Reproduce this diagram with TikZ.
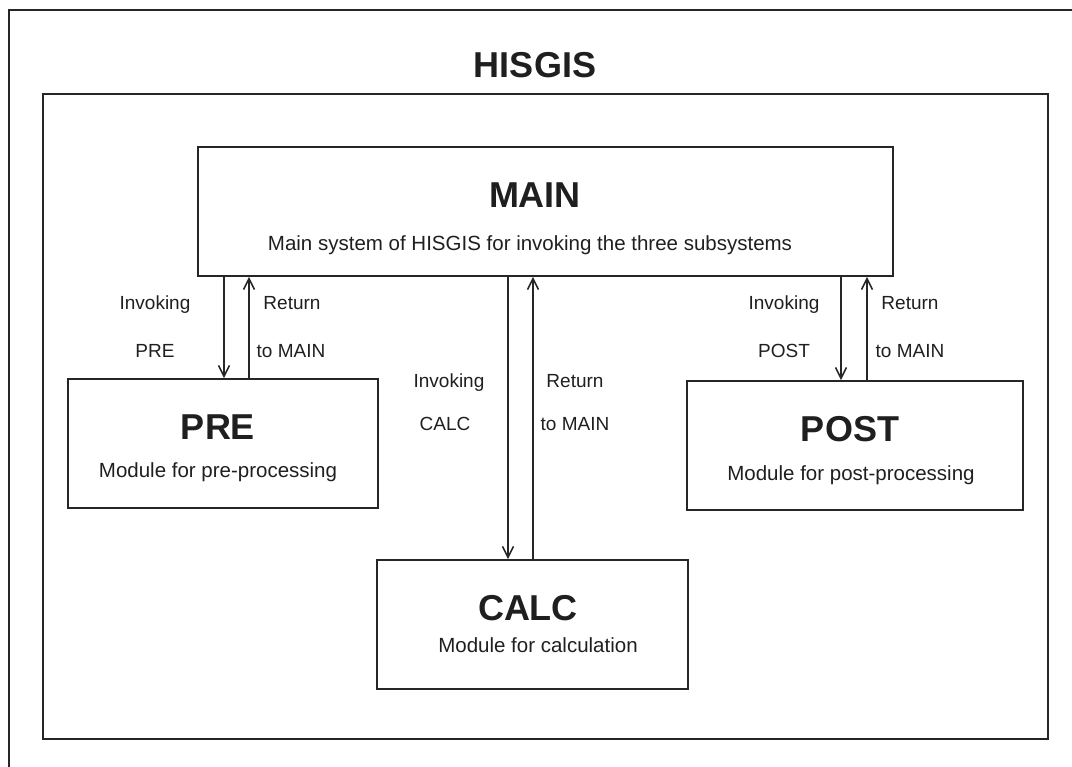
\documentclass[tikz,border=0pt]{standalone}
\usepackage{fontspec}
\setmainfont{Liberation Sans}
\usetikzlibrary{arrows.meta}
\begin{document}
\begin{tikzpicture}[x=1pt,y=-1pt,
  frame/.style={draw=black!85,line width=1.6pt},
  modbox/.style={draw=black!85,line width=1.6pt,inner sep=0pt},
  arr/.style={draw=black!85,line width=1.5pt,-{Straight Barb[length=11pt,width=11pt,line width=1.6pt]}},
  title/.style={anchor=base,inner sep=0pt,font=\fontsize{36}{40}\selectfont\bfseries,text=black!88},
  sub/.style={anchor=base,inner sep=0pt,font=\fontsize{20.5}{24}\selectfont,text=black!88},
  lbl/.style={anchor=base,inner sep=0pt,font=\fontsize{19}{22}\selectfont,text=black!88}]
\useasboundingbox (0,0) rectangle (1072,767);
% outer sheet border (runs off the page at right and bottom)
\draw[frame] (1072,10) -- (9,10) -- (9,767);
\node[title] (hisgis) at (535,78) {HISGIS};
% system frame
\node[modbox,minimum width=1005pt,minimum height=645pt] (sys) at (545.5,416.5) {};
% modules
\node[modbox,minimum width=695pt,minimum height=129pt] (main) at (545.5,211.5) {};
\node[modbox,minimum width=310pt,minimum height=129pt] (pre) at (223,443.5) {};
\node[modbox,minimum width=311pt,minimum height=129pt] (calc) at (532.5,624.5) {};
\node[modbox,minimum width=336pt,minimum height=129pt] (post) at (855,445.5) {};
% module texts
\node[title] (mainT) at (535,208) {MAIN};
\node[sub] (mainS) at (530,251) {Main system of HISGIS for invoking the three subsystems};
\node[title] (preT) at (218,440) {PRE};
\node[sub] (preS) at (218,478) {Module for pre-processing};
\node[title] (calcT) at (528,620) {CALC};
\node[sub] (calcS) at (538,652) {Module for calculation};
\node[title] (postT) at (850,442) {POST};
\node[sub] (postS) at (851,480) {Module for post-processing};
% connector positions
\coordinate (preDn) at ([xshift=1pt]pre.north);
\coordinate (preUp) at ([xshift=26pt]pre.north);
\coordinate (calcDn) at ([xshift=-24.5pt]calc.north);
\coordinate (calcUp) at ([xshift=0.5pt]calc.north);
\coordinate (postDn) at ([xshift=-14pt]post.north);
\coordinate (postUp) at ([xshift=12pt]post.north);
\draw[arr] (main.south -| preDn) -- (preDn);
\draw[arr] (preUp) -- (main.south -| preUp);
\draw[arr] (main.south -| calcDn) -- (calcDn);
\draw[arr] (calcUp) -- (main.south -| calcUp);
\draw[arr] (main.south -| postDn) -- (postDn);
\draw[arr] (postUp) -- (main.south -| postUp);
% connector labels
\node[lbl] (l1) at (155,310) {Invoking};
\node[lbl] (l2) at (155,358) {PRE};
\node[lbl] (l3) at (292,310) {Return};
\node[lbl] (l4) at (291,358) {to MAIN};
\node[lbl] (l5) at (449,388) {Invoking};
\node[lbl] (l6) at (445,431) {CALC};
\node[lbl] (l7) at (575,388) {Return};
\node[lbl] (l8) at (575,431) {to MAIN};
\node[lbl] (l9) at (784,310) {Invoking};
\node[lbl] (l10) at (784,358) {POST};
\node[lbl] (l11) at (910,310) {Return};
\node[lbl] (l12) at (910,358) {to MAIN};
\end{tikzpicture}
\end{document}
